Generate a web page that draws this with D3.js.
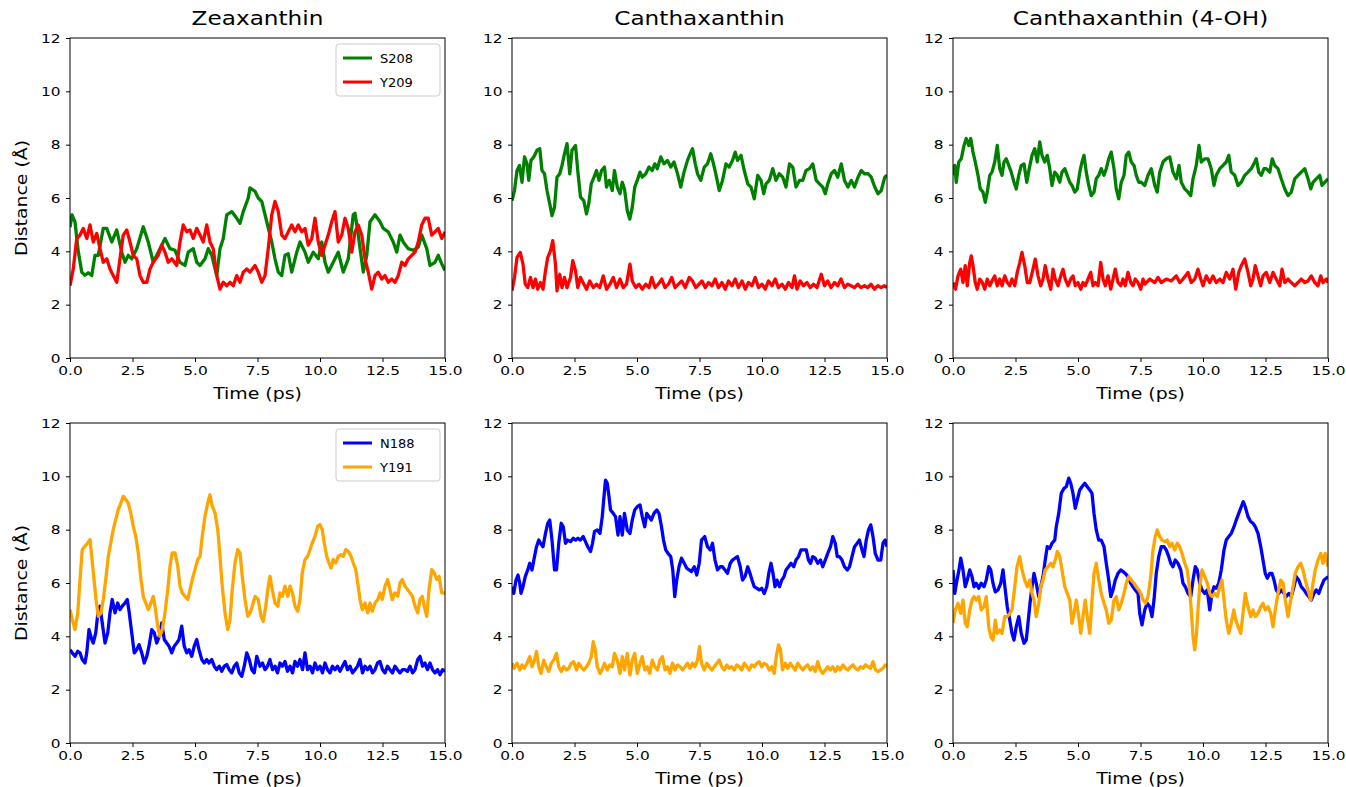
<!DOCTYPE html>
<html>
<head>
<meta charset="utf-8">
<script src="https://cdn.jsdelivr.net/npm/d3@7"></script>
<style>
  body { margin: 0; background: #fff; }
  svg text { font-family: "DejaVu Sans", sans-serif; fill: #000; }
</style>
</head>
<body>
<svg id="chart" width="1346" height="787"></svg>
<script>
// ---- data: [time (ps), distance (A)] ----
var zeaS208 = [[0,4.9],[0.08,5.37],[0.2,5.1],[0.33,4.0],[0.47,3.22],[0.6,3.1],[0.73,3.2],[0.87,3.09],[1.0,3.85],[1.13,3.85],[1.33,4.86],[1.47,4.86],[1.67,4.35],[1.87,4.8],[2.07,3.97],[2.2,3.59],[2.33,3.85],[2.47,3.72],[2.67,4.1],[2.93,4.92],[3.13,4.35],[3.33,3.59],[3.53,3.97],[3.8,4.48],[4.0,4.1],[4.2,4.04],[4.4,3.59],[4.6,3.47],[4.73,3.97],[4.93,4.1],[5.07,3.59],[5.2,3.47],[5.4,3.72],[5.53,4.1],[5.67,3.85],[5.87,3.09],[6.0,4.1],[6.13,4.48],[6.27,5.37],[6.47,5.49],[6.67,5.24],[6.8,5.05],[6.93,5.49],[7.13,6.0],[7.2,6.38],[7.4,6.25],[7.53,6.0],[7.67,5.87],[7.87,5.11],[8.07,4.35],[8.2,3.72],[8.33,3.22],[8.47,3.09],[8.6,3.85],[8.73,3.91],[8.87,3.22],[9.07,3.97],[9.2,4.35],[9.4,3.97],[9.53,3.59],[9.73,3.97],[9.93,3.72],[10.07,4.35],[10.2,3.59],[10.33,3.22],[10.53,3.59],[10.73,3.97],[10.93,3.22],[11.13,3.72],[11.33,5.37],[11.4,5.43],[11.53,4.61],[11.73,3.22],[11.87,3.85],[12.0,5.11],[12.2,5.37],[12.4,5.11],[12.53,4.86],[12.73,4.73],[12.93,4.35],[13.07,3.97],[13.2,4.61],[13.33,4.35],[13.53,4.1],[13.73,4.04],[13.93,4.16],[14.07,4.61],[14.27,4.1],[14.4,3.47],[14.6,3.59],[14.73,3.85],[14.87,3.53],[15.0,3.28]];
var zeaY209 = [[0,2.71],[0.13,3.34],[0.27,4.48],[0.4,4.61],[0.53,4.86],[0.67,4.48],[0.8,4.99],[0.93,4.35],[1.07,4.67],[1.2,4.1],[1.33,3.59],[1.47,3.72],[1.6,3.34],[1.73,3.09],[1.87,2.84],[2.0,3.72],[2.13,4.61],[2.27,4.8],[2.4,4.35],[2.53,3.85],[2.67,3.72],[2.8,3.09],[2.93,2.84],[3.07,2.84],[3.2,3.34],[3.33,3.59],[3.53,3.85],[3.67,4.23],[3.8,3.97],[3.93,3.59],[4.07,3.72],[4.27,3.47],[4.4,4.35],[4.53,4.99],[4.67,4.73],[4.8,4.8],[4.93,4.48],[5.07,4.86],[5.2,4.61],[5.33,4.35],[5.47,4.99],[5.6,4.35],[5.73,4.1],[5.87,3.09],[6.0,2.58],[6.13,2.84],[6.27,2.71],[6.4,2.84],[6.53,2.71],[6.67,3.09],[6.8,2.84],[6.93,3.22],[7.07,3.34],[7.2,3.22],[7.4,3.47],[7.53,3.22],[7.67,2.84],[7.8,3.09],[7.93,4.1],[8.07,5.37],[8.2,5.87],[8.33,5.49],[8.47,4.61],[8.6,4.48],[8.73,4.73],[8.87,4.99],[9.0,4.73],[9.13,4.99],[9.27,4.73],[9.4,4.86],[9.53,4.23],[9.67,4.48],[9.8,5.24],[9.93,4.35],[10.07,3.85],[10.2,4.23],[10.33,4.61],[10.47,5.11],[10.6,5.49],[10.73,4.35],[10.87,4.61],[11.0,5.24],[11.13,4.86],[11.27,3.97],[11.4,4.73],[11.53,4.99],[11.67,4.61],[11.8,3.72],[11.93,3.22],[12.07,2.58],[12.2,3.09],[12.33,3.22],[12.47,2.96],[12.6,3.09],[12.73,2.84],[12.87,2.96],[13.0,2.84],[13.13,3.09],[13.27,3.59],[13.4,3.47],[13.53,3.72],[13.67,3.85],[13.8,3.97],[13.93,4.35],[14.07,4.99],[14.2,5.24],[14.33,5.24],[14.47,4.61],[14.6,4.73],[14.73,4.86],[14.87,4.48],[15.0,4.73]];

var canS208 = [[0,5.9],[0.1,6.28],[0.2,7.03],[0.3,7.22],[0.4,6.59],[0.5,7.54],[0.6,7.28],[0.67,6.66],[0.76,7.41],[0.87,7.54],[1.0,7.79],[1.11,7.85],[1.2,7.03],[1.3,6.91],[1.4,6.28],[1.51,5.78],[1.6,5.34],[1.7,5.65],[1.8,6.78],[1.91,6.91],[2.0,7.22],[2.1,7.66],[2.2,8.04],[2.31,6.91],[2.4,7.79],[2.54,7.97],[2.63,7.03],[2.74,6.03],[2.87,5.9],[2.98,5.4],[3.07,5.78],[3.17,6.53],[3.28,6.78],[3.38,7.03],[3.48,6.66],[3.58,7.03],[3.7,7.16],[3.78,6.41],[3.89,6.66],[4.01,6.28],[4.1,7.03],[4.21,6.41],[4.32,6.16],[4.41,6.59],[4.5,6.34],[4.61,5.53],[4.71,5.21],[4.81,5.65],[4.91,6.41],[5.01,6.66],[5.12,6.97],[5.21,6.78],[5.35,6.91],[5.48,7.16],[5.61,7.03],[5.71,7.28],[5.81,7.1],[5.95,7.54],[6.08,7.28],[6.22,7.41],[6.35,7.16],[6.48,7.35],[6.62,6.91],[6.75,6.41],[6.88,6.97],[7.02,7.41],[7.13,7.66],[7.22,7.85],[7.33,7.28],[7.42,6.91],[7.55,6.66],[7.69,7.16],[7.82,7.28],[7.95,7.66],[8.06,7.28],[8.15,6.91],[8.29,6.28],[8.42,6.66],[8.56,7.28],[8.69,7.16],[8.82,7.41],[8.93,7.72],[9.02,7.41],[9.16,7.6],[9.29,7.03],[9.43,6.53],[9.56,6.41],[9.69,5.97],[9.83,6.85],[9.96,6.66],[10.07,6.16],[10.16,6.53],[10.29,6.66],[10.43,7.1],[10.56,6.66],[10.69,6.91],[10.83,6.78],[10.96,6.41],[11.1,7.28],[11.23,7.16],[11.36,6.41],[11.5,6.66],[11.63,6.66],[11.76,7.03],[11.9,7.1],[12.03,7.28],[12.17,6.66],[12.3,6.53],[12.43,6.41],[12.53,6.16],[12.63,6.53],[12.77,6.91],[12.9,7.03],[13.03,6.78],[13.17,7.28],[13.3,6.66],[13.44,6.41],[13.57,6.66],[13.7,6.41],[13.84,6.78],[13.97,7.03],[14.1,6.91],[14.24,6.91],[14.37,6.78],[14.51,6.41],[14.64,6.16],[14.77,6.28],[14.91,6.78],[15.0,6.85]];
var canY209 = [[0,2.52],[0.1,3.02],[0.2,3.77],[0.33,3.96],[0.44,3.52],[0.53,2.77],[0.63,2.64],[0.74,3.02],[0.84,2.64],[0.94,2.96],[1.03,2.58],[1.14,2.83],[1.24,2.58],[1.34,3.27],[1.43,3.77],[1.54,4.02],[1.63,4.4],[1.74,3.52],[1.8,2.52],[1.91,3.14],[2.0,2.64],[2.1,3.02],[2.2,2.64],[2.34,3.02],[2.43,3.65],[2.54,3.27],[2.63,2.64],[2.74,3.02],[2.84,2.83],[2.98,2.58],[3.11,2.89],[3.25,2.64],[3.38,2.77],[3.51,2.64],[3.65,3.08],[3.78,2.58],[3.92,2.77],[4.05,3.02],[4.18,2.64],[4.32,2.96],[4.45,2.64],[4.58,2.77],[4.72,3.52],[4.81,2.89],[4.95,2.64],[5.08,2.77],[5.21,2.58],[5.35,2.77],[5.48,2.64],[5.59,3.02],[5.72,2.64],[5.85,2.77],[5.99,2.96],[6.12,2.64],[6.26,2.77],[6.39,3.02],[6.52,2.64],[6.66,2.77],[6.79,2.89],[6.93,2.64],[7.09,3.02],[7.22,2.89],[7.35,2.64],[7.48,2.77],[7.6,2.89],[7.73,2.64],[7.86,2.83],[8.0,2.71],[8.13,2.96],[8.26,2.64],[8.4,2.83],[8.53,2.58],[8.66,2.89],[8.8,2.71],[8.93,2.96],[9.06,2.64],[9.2,2.89],[9.33,2.58],[9.46,2.83],[9.6,2.71],[9.73,3.02],[9.86,2.64],[10.0,2.77],[10.13,2.58],[10.26,2.89],[10.4,2.71],[10.53,2.96],[10.66,2.64],[10.8,2.77],[10.93,2.58],[11.06,2.83],[11.2,2.64],[11.3,3.08],[11.4,2.58],[11.53,2.89],[11.66,2.71],[11.8,2.83],[11.93,2.64],[12.06,2.77],[12.2,2.64],[12.37,3.14],[12.5,2.71],[12.63,2.89],[12.76,2.64],[12.9,2.83],[13.03,2.71],[13.16,2.96],[13.3,2.64],[13.43,2.77],[13.56,2.71],[13.7,2.64],[13.83,2.77],[13.96,2.64],[14.1,2.71],[14.23,2.64],[14.36,2.77],[14.5,2.58],[14.63,2.71],[14.76,2.64],[14.9,2.71],[15.0,2.64]];

var ohS208 = [[0,6.85],[0.07,7.22],[0.13,6.59],[0.23,7.35],[0.33,7.47],[0.44,7.97],[0.53,8.23],[0.63,7.97],[0.71,8.23],[0.8,7.72],[0.89,7.35],[1.0,6.85],[1.09,6.34],[1.2,6.22],[1.29,5.84],[1.37,6.22],[1.47,6.85],[1.56,6.97],[1.67,7.35],[1.77,7.97],[1.87,7.1],[1.96,6.85],[2.04,7.35],[2.13,7.47],[2.23,7.22],[2.33,6.97],[2.44,6.59],[2.53,6.34],[2.63,6.85],[2.73,7.22],[2.84,7.28],[2.95,6.59],[3.05,7.1],[3.16,7.6],[3.27,7.85],[3.37,7.35],[3.47,8.1],[3.56,7.6],[3.67,7.35],[3.77,7.6],[3.87,7.1],[3.96,6.47],[4.07,6.97],[4.17,6.85],[4.27,6.59],[4.36,6.97],[4.47,7.1],[4.57,6.85],[4.67,6.59],[4.76,6.47],[4.87,6.22],[4.97,6.34],[5.07,6.97],[5.16,7.35],[5.24,7.6],[5.33,6.97],[5.43,6.47],[5.53,6.09],[5.64,6.22],[5.73,6.72],[5.83,6.85],[5.93,7.1],[6.04,6.85],[6.13,7.1],[6.23,7.47],[6.33,7.72],[6.44,7.1],[6.53,6.34],[6.63,5.97],[6.73,6.59],[6.84,6.85],[6.93,7.6],[7.03,7.72],[7.13,7.35],[7.24,7.22],[7.33,6.85],[7.43,6.59],[7.53,6.59],[7.67,6.47],[7.8,6.85],[7.93,7.1],[8.07,6.47],[8.17,6.22],[8.27,6.97],[8.4,7.35],[8.53,7.47],[8.67,7.54],[8.8,6.97],[8.93,6.72],[9.04,7.22],[9.13,6.59],[9.27,6.34],[9.4,6.22],[9.51,6.09],[9.6,6.72],[9.73,7.22],[9.84,7.97],[9.93,7.35],[10.07,7.47],[10.2,7.47],[10.33,7.1],[10.44,6.47],[10.53,6.85],[10.67,7.1],[10.8,7.22],[10.93,7.35],[11.03,7.6],[11.13,6.97],[11.27,6.85],[11.4,6.47],[11.53,6.59],[11.67,6.85],[11.8,6.97],[11.93,7.1],[12.07,7.35],[12.13,7.47],[12.23,6.97],[12.33,6.85],[12.44,7.1],[12.53,7.1],[12.67,6.97],[12.77,7.47],[12.87,7.22],[13.0,7.1],[13.13,6.72],[13.27,6.34],[13.4,6.09],[13.53,6.22],[13.67,6.72],[13.8,6.85],[13.93,6.97],[14.07,7.1],[14.2,6.72],[14.31,6.34],[14.4,6.59],[14.53,6.72],[14.67,6.85],[14.76,6.47],[14.87,6.59],[15.0,6.72]];
var ohY209 = [[0,2.83],[0.1,2.58],[0.2,3.08],[0.31,3.33],[0.4,2.83],[0.49,3.46],[0.57,2.71],[0.67,3.58],[0.73,3.83],[0.8,3.46],[0.89,2.83],[0.97,2.58],[1.07,2.96],[1.17,2.83],[1.27,2.58],[1.37,2.96],[1.47,2.71],[1.56,2.89],[1.67,3.08],[1.77,2.71],[1.87,2.96],[1.96,2.71],[2.07,3.08],[2.17,2.83],[2.27,2.71],[2.36,2.96],[2.47,2.71],[2.57,3.21],[2.67,3.58],[2.76,3.96],[2.87,3.46],[2.97,2.83],[3.07,2.83],[3.2,3.33],[3.29,3.71],[3.4,3.08],[3.51,2.71],[3.6,2.96],[3.69,3.46],[3.8,2.96],[3.91,2.58],[4.0,3.33],[4.09,2.96],[4.2,2.71],[4.31,3.08],[4.4,3.33],[4.49,2.96],[4.6,2.71],[4.71,2.96],[4.8,3.08],[4.89,2.71],[5.0,2.83],[5.11,2.58],[5.2,2.83],[5.29,2.71],[5.4,2.96],[5.51,3.21],[5.6,2.71],[5.69,2.83],[5.8,2.71],[5.91,3.58],[6.0,2.96],[6.09,2.71],[6.2,3.08],[6.31,2.58],[6.4,2.96],[6.49,3.33],[6.6,2.83],[6.71,2.71],[6.8,2.96],[6.89,2.71],[7.0,3.21],[7.11,2.83],[7.2,2.71],[7.29,2.96],[7.4,2.83],[7.51,2.58],[7.6,2.96],[7.67,2.77],[7.87,2.96],[8.07,2.83],[8.2,3.02],[8.33,2.83],[8.53,2.96],[8.73,2.89],[8.93,3.08],[9.07,2.83],[9.2,2.96],[9.4,3.21],[9.53,2.83],[9.67,2.96],[9.8,3.33],[9.91,2.96],[10.0,2.71],[10.13,3.08],[10.27,2.83],[10.4,3.08],[10.53,2.83],[10.67,2.96],[10.8,2.83],[10.93,3.21],[11.07,2.96],[11.2,3.33],[11.31,2.58],[11.43,3.21],[11.53,3.46],[11.67,3.71],[11.8,3.21],[11.91,2.71],[12.0,2.96],[12.09,3.46],[12.2,3.08],[12.31,2.71],[12.4,3.08],[12.53,3.21],[12.67,2.83],[12.8,3.21],[12.93,2.96],[13.07,2.71],[13.16,3.33],[13.27,2.83],[13.4,2.96],[13.53,2.83],[13.67,2.71],[13.8,2.83],[13.93,2.96],[14.07,2.83],[14.2,2.89],[14.33,3.08],[14.47,2.83],[14.6,2.71],[14.71,3.08],[14.8,2.83],[14.93,2.96],[15.0,2.83]];

var zeaN188 = [[0,3.5],[0.09,3.38],[0.2,3.25],[0.31,3.44],[0.4,3.38],[0.49,3.13],[0.6,3.0],[0.67,3.38],[0.76,4.25],[0.87,3.88],[0.93,3.75],[1.03,4.13],[1.13,5.0],[1.2,5.13],[1.29,4.5],[1.4,3.75],[1.51,4.13],[1.6,4.88],[1.69,5.38],[1.8,4.88],[1.91,5.25],[2.0,5.0],[2.09,5.13],[2.2,5.25],[2.29,5.38],[2.37,4.88],[2.47,4.13],[2.57,3.38],[2.67,3.5],[2.76,3.69],[2.87,3.38],[2.97,3.0],[3.07,3.25],[3.16,3.63],[3.27,4.25],[3.37,4.13],[3.47,3.75],[3.57,4.0],[3.67,4.5],[3.77,3.88],[3.87,3.75],[3.96,3.63],[4.07,3.38],[4.17,3.63],[4.27,3.75],[4.36,3.88],[4.47,4.38],[4.57,3.63],[4.67,3.38],[4.76,3.5],[4.87,3.25],[4.97,3.63],[5.07,3.88],[5.16,3.5],[5.27,3.13],[5.37,3.0],[5.47,3.13],[5.56,3.0],[5.67,3.13],[5.77,2.88],[5.87,2.75],[5.97,2.88],[6.07,2.69],[6.17,2.88],[6.27,2.94],[6.37,2.75],[6.47,2.63],[6.57,2.88],[6.67,3.0],[6.77,2.63],[6.87,2.5],[6.97,2.88],[7.07,3.38],[7.17,3.13],[7.27,2.75],[7.37,2.63],[7.47,3.25],[7.6,2.88],[7.7,3.0],[7.8,2.75],[7.9,2.88],[8.0,3.13],[8.1,2.75],[8.2,2.88],[8.3,2.63],[8.4,3.0],[8.5,2.88],[8.6,3.06],[8.7,2.69],[8.8,2.88],[8.9,2.63],[9.0,3.06],[9.1,2.88],[9.2,3.13],[9.3,2.75],[9.4,3.38],[9.5,2.75],[9.6,2.88],[9.7,2.63],[9.8,3.0],[9.9,2.75],[10.0,2.88],[10.1,2.63],[10.2,3.0],[10.3,2.75],[10.4,2.63],[10.5,2.88],[10.6,2.75],[10.7,2.88],[10.8,2.69],[10.9,2.88],[11.0,3.06],[11.1,2.75],[11.2,2.88],[11.3,2.63],[11.4,2.75],[11.5,2.88],[11.6,3.13],[11.7,2.63],[11.8,2.88],[11.9,2.75],[12.0,2.88],[12.1,2.63],[12.2,2.75],[12.3,3.0],[12.4,3.06],[12.5,2.75],[12.6,2.63],[12.7,2.88],[12.8,2.75],[12.9,2.63],[13.0,2.88],[13.1,2.75],[13.2,2.63],[13.3,2.75],[13.4,2.75],[13.5,2.69],[13.6,2.88],[13.7,2.63],[13.8,2.75],[13.91,3.13],[14.0,3.25],[14.1,2.88],[14.2,3.0],[14.3,2.75],[14.4,3.0],[14.5,2.75],[14.6,2.63],[14.7,2.75],[14.8,2.56],[14.9,2.75],[15.0,2.69]];
var zeaY191 = [[0,5.0],[0.09,4.63],[0.2,4.25],[0.31,4.88],[0.4,6.13],[0.49,7.25],[0.6,7.38],[0.71,7.5],[0.8,7.63],[0.87,7.0],[0.96,6.13],[1.04,5.38],[1.13,4.75],[1.24,4.88],[1.33,5.38],[1.43,6.13],[1.53,7.0],[1.63,7.5],[1.73,8.0],[1.83,8.38],[1.93,8.75],[2.04,9.0],[2.13,9.25],[2.23,9.13],[2.33,9.0],[2.43,8.63],[2.53,8.13],[2.63,7.75],[2.73,7.13],[2.84,6.13],[2.93,5.5],[3.03,5.25],[3.13,5.0],[3.24,5.25],[3.33,5.5],[3.4,5.13],[3.51,4.38],[3.6,4.0],[3.69,4.25],[3.8,4.88],[3.91,5.75],[4.0,6.63],[4.09,7.13],[4.2,7.13],[4.31,6.63],[4.4,5.88],[4.49,5.63],[4.6,5.5],[4.71,5.38],[4.8,5.75],[4.89,6.13],[5.0,6.5],[5.11,6.88],[5.2,7.0],[5.29,7.75],[5.4,8.5],[5.51,9.0],[5.6,9.31],[5.69,8.88],[5.8,8.63],[5.91,8.0],[6.0,7.0],[6.09,5.88],[6.2,4.88],[6.31,4.25],[6.4,4.63],[6.49,5.75],[6.6,6.75],[6.71,7.25],[6.8,7.13],[6.89,6.25],[7.0,5.38],[7.11,4.75],[7.2,4.88],[7.29,5.13],[7.4,5.5],[7.53,5.38],[7.64,4.75],[7.73,4.56],[7.83,5.13],[7.93,5.88],[8.0,6.25],[8.09,5.75],[8.2,5.25],[8.31,5.13],[8.4,5.63],[8.5,5.5],[8.6,5.88],[8.71,5.5],[8.8,5.88],[8.9,5.63],[9.0,5.13],[9.11,4.94],[9.2,5.38],[9.29,6.38],[9.4,6.88],[9.51,7.0],[9.6,7.25],[9.69,7.5],[9.8,7.75],[9.91,8.13],[10.0,8.19],[10.09,8.0],[10.17,7.5],[10.27,7.0],[10.36,6.75],[10.44,6.56],[10.53,6.88],[10.63,6.75],[10.73,7.0],[10.83,7.06],[10.93,7.0],[11.03,7.25],[11.13,7.19],[11.24,7.0],[11.33,6.75],[11.43,6.5],[11.51,6.0],[11.6,5.38],[11.69,5.0],[11.8,5.25],[11.91,4.88],[12.0,5.25],[12.09,4.94],[12.2,5.25],[12.31,5.38],[12.4,5.63],[12.49,5.38],[12.6,5.88],[12.71,6.13],[12.8,5.75],[12.89,5.38],[13.0,5.63],[13.11,5.5],[13.2,6.0],[13.29,6.13],[13.4,5.88],[13.51,5.75],[13.6,5.63],[13.7,5.5],[13.8,5.13],[13.91,4.88],[14.0,5.38],[14.09,5.5],[14.17,5.13],[14.27,4.75],[14.36,5.75],[14.47,6.5],[14.57,6.38],[14.67,6.13],[14.76,6.25],[14.87,5.63],[15.0,5.63]];

var canN188 = [[0,5.86],[0.07,5.61],[0.16,6.11],[0.24,6.3],[0.31,5.99],[0.36,5.61],[0.44,5.86],[0.53,6.24],[0.63,6.49],[0.71,6.74],[0.8,6.49],[0.9,6.99],[0.98,7.36],[1.07,7.61],[1.14,7.49],[1.24,7.36],[1.34,7.86],[1.43,8.24],[1.51,8.36],[1.6,7.61],[1.7,6.49],[1.78,6.49],[1.87,7.49],[1.97,8.24],[2.05,8.11],[2.14,7.49],[2.23,7.61],[2.34,7.55],[2.45,7.68],[2.54,7.61],[2.64,7.68],[2.74,7.61],[2.85,7.74],[2.94,7.55],[3.03,7.36],[3.14,7.18],[3.22,7.49],[3.3,7.93],[3.41,7.99],[3.52,7.86],[3.61,8.49],[3.68,9.24],[3.74,9.86],[3.81,9.74],[3.88,9.24],[3.94,8.74],[4.05,8.61],[4.14,8.49],[4.24,7.8],[4.32,8.49],[4.41,7.8],[4.5,8.61],[4.61,7.99],[4.72,7.86],[4.81,8.36],[4.91,8.74],[5.01,8.86],[5.12,8.93],[5.21,8.49],[5.31,8.11],[5.39,8.61],[5.48,8.49],[5.57,8.36],[5.68,8.61],[5.79,8.74],[5.88,8.61],[5.98,8.11],[6.06,7.61],[6.15,7.24],[6.24,7.11],[6.35,6.99],[6.43,6.49],[6.51,5.49],[6.59,6.11],[6.68,6.61],[6.78,6.93],[6.89,6.74],[6.99,6.55],[7.09,6.49],[7.18,6.43],[7.29,6.61],[7.39,6.3],[7.49,6.74],[7.58,7.61],[7.71,7.74],[7.82,7.36],[7.93,7.24],[8.02,7.49],[8.12,6.86],[8.22,6.49],[8.33,6.61],[8.42,6.61],[8.52,6.49],[8.62,6.36],[8.73,6.74],[8.82,6.86],[8.92,6.93],[9.02,6.99],[9.13,6.61],[9.22,6.11],[9.32,6.24],[9.43,6.61],[9.52,6.36],[9.6,6.11],[9.69,5.86],[9.8,5.8],[9.89,5.74],[9.99,5.8],[10.09,5.61],[10.19,5.86],[10.27,6.36],[10.36,6.74],[10.44,6.36],[10.52,5.86],[10.6,6.11],[10.7,5.86],[10.79,6.11],[10.88,6.24],[10.96,6.49],[11.06,6.61],[11.16,6.74],[11.27,6.61],[11.36,6.86],[11.46,6.99],[11.56,7.24],[11.67,7.24],[11.77,7.24],[11.86,6.86],[11.94,6.74],[12.03,6.99],[12.13,6.93],[12.23,6.74],[12.34,6.86],[12.43,6.61],[12.53,6.86],[12.63,7.11],[12.74,7.36],[12.83,7.74],[12.93,7.49],[13.01,6.99],[13.1,6.99],[13.2,6.86],[13.3,6.61],[13.41,6.49],[13.5,6.61],[13.6,6.99],[13.7,7.36],[13.81,7.49],[13.9,7.61],[14.0,7.24],[14.08,6.99],[14.17,7.61],[14.26,7.99],[14.35,8.18],[14.44,7.74],[14.53,7.11],[14.64,6.86],[14.75,6.86],[14.84,7.49],[14.93,7.61],[15.0,7.36]];
var canY191 = [[0,2.99],[0.09,2.8],[0.2,2.99],[0.31,2.74],[0.4,2.93],[0.49,2.8],[0.6,2.99],[0.71,3.24],[0.8,2.86],[0.9,3.11],[0.98,3.43],[1.07,2.86],[1.16,2.61],[1.27,3.11],[1.37,2.86],[1.47,2.68],[1.57,2.99],[1.67,3.11],[1.78,3.36],[1.87,2.86],[1.97,2.68],[2.07,2.86],[2.18,2.74],[2.27,2.8],[2.37,2.99],[2.47,3.05],[2.58,2.74],[2.67,2.99],[2.76,2.86],[2.87,2.74],[2.98,2.86],[3.07,2.99],[3.17,3.24],[3.25,3.8],[3.33,3.49],[3.41,2.86],[3.52,2.61],[3.6,2.74],[3.7,2.99],[3.81,2.74],[3.91,2.93],[4.01,2.86],[4.1,3.36],[4.21,3.11],[4.32,2.61],[4.41,3.24],[4.5,2.74],[4.61,3.36],[4.72,2.55],[4.81,3.11],[4.91,3.36],[5.01,2.61],[5.12,2.99],[5.21,3.24],[5.31,2.74],[5.41,2.86],[5.51,2.61],[5.61,3.11],[5.71,2.86],[5.82,2.74],[5.92,3.11],[6.02,3.24],[6.12,2.74],[6.22,2.86],[6.32,2.61],[6.42,2.99],[6.52,2.74],[6.62,2.93],[6.72,2.86],[6.82,2.74],[6.92,2.86],[7.02,2.99],[7.12,2.8],[7.22,2.99],[7.32,2.86],[7.42,3.11],[7.5,3.61],[7.58,2.99],[7.69,2.74],[7.79,2.99],[7.89,2.86],[7.99,2.74],[8.09,2.86],[8.19,2.99],[8.29,3.11],[8.39,2.86],[8.49,2.74],[8.59,2.93],[8.69,2.8],[8.79,2.86],[8.89,2.74],[8.99,2.93],[9.09,2.86],[9.19,2.74],[9.29,2.99],[9.39,2.86],[9.49,2.74],[9.59,2.93],[9.69,2.86],[9.79,2.99],[9.89,3.05],[9.99,2.86],[10.09,2.99],[10.19,2.93],[10.29,2.74],[10.39,2.86],[10.49,2.61],[10.57,3.24],[10.66,3.68],[10.74,3.49],[10.82,2.74],[10.93,2.99],[11.03,2.8],[11.13,2.99],[11.23,2.86],[11.33,2.74],[11.43,2.99],[11.53,2.86],[11.63,2.74],[11.73,2.86],[11.83,2.93],[11.93,2.74],[12.03,2.86],[12.13,2.68],[12.23,3.05],[12.33,2.74],[12.43,2.61],[12.53,2.74],[12.63,2.86],[12.73,2.74],[12.83,2.86],[12.93,2.68],[13.03,2.86],[13.13,2.74],[13.24,2.93],[13.34,2.8],[13.44,2.74],[13.54,2.86],[13.64,2.93],[13.74,2.8],[13.84,2.74],[13.94,2.86],[14.04,2.8],[14.14,2.93],[14.24,2.86],[14.34,2.8],[14.44,3.05],[14.54,2.74],[14.64,2.68],[14.74,2.74],[14.84,2.8],[14.93,2.93],[15.0,2.86]];

var ohN188 = [[0,6.49],[0.07,5.61],[0.16,6.11],[0.24,6.49],[0.31,6.93],[0.4,6.49],[0.49,5.86],[0.57,6.11],[0.67,6.49],[0.76,6.24],[0.84,5.86],[0.93,5.99],[1.03,5.8],[1.13,5.99],[1.24,5.86],[1.33,6.11],[1.43,6.61],[1.51,6.49],[1.6,5.99],[1.69,5.67],[1.8,5.74],[1.91,5.99],[2.0,6.49],[2.09,5.74],[2.17,5.11],[2.27,4.61],[2.36,4.11],[2.44,3.86],[2.53,4.36],[2.63,4.74],[2.73,4.11],[2.84,3.74],[2.93,3.86],[3.0,4.49],[3.08,5.24],[3.16,5.86],[3.24,6.36],[3.33,5.99],[3.43,5.49],[3.51,5.86],[3.6,6.24],[3.69,6.86],[3.77,7.36],[3.87,7.3],[3.96,7.49],[4.07,7.61],[4.13,8.11],[4.23,8.61],[4.33,9.36],[4.44,9.55],[4.53,9.61],[4.63,9.93],[4.71,9.74],[4.8,9.36],[4.89,8.8],[4.97,9.11],[5.07,9.49],[5.16,9.61],[5.27,9.74],[5.37,9.61],[5.47,9.49],[5.56,9.36],[5.64,8.61],[5.73,7.99],[5.83,7.61],[5.93,7.61],[6.04,7.36],[6.13,6.74],[6.23,6.11],[6.31,5.49],[6.4,5.74],[6.49,6.11],[6.6,6.36],[6.71,6.49],[6.8,6.43],[6.89,6.36],[7.0,6.24],[7.11,5.99],[7.2,5.86],[7.29,5.74],[7.4,5.61],[7.47,4.86],[7.56,4.43],[7.67,4.99],[7.77,5.24],[7.87,5.11],[7.96,4.74],[8.04,5.36],[8.13,6.36],[8.23,6.99],[8.33,7.36],[8.44,7.36],[8.53,7.24],[8.63,6.99],[8.71,6.74],[8.8,6.61],[8.89,6.86],[9.0,6.74],[9.11,6.49],[9.2,5.99],[9.29,5.86],[9.4,5.61],[9.51,5.49],[9.6,6.11],[9.69,6.61],[9.77,6.49],[9.87,5.99],[9.96,5.74],[10.07,5.61],[10.17,5.74],[10.27,4.99],[10.36,5.61],[10.44,5.86],[10.53,5.8],[10.63,5.99],[10.73,6.49],[10.84,7.24],[10.93,7.61],[11.03,7.74],[11.13,7.86],[11.24,8.11],[11.33,8.36],[11.43,8.61],[11.53,8.86],[11.61,9.05],[11.69,8.86],[11.8,8.49],[11.91,8.3],[12.0,8.24],[12.09,8.11],[12.2,7.86],[12.31,7.36],[12.4,6.86],[12.49,6.36],[12.57,6.18],[12.67,6.36],[12.76,6.36],[12.84,6.11],[12.93,5.74],[13.03,5.61],[13.13,5.74],[13.24,5.61],[13.33,5.49],[13.43,5.61],[13.53,5.49],[13.64,5.86],[13.73,6.24],[13.83,6.11],[13.93,5.86],[14.04,5.74],[14.13,5.61],[14.23,5.49],[14.33,5.36],[14.44,5.61],[14.53,5.74],[14.63,5.61],[14.73,5.86],[14.84,6.11],[14.93,6.18],[15.0,6.24]];
var ohY191 = [[0,4.49],[0.09,4.99],[0.2,5.24],[0.31,4.86],[0.4,5.36],[0.49,4.49],[0.57,4.36],[0.67,4.99],[0.76,5.36],[0.84,5.49],[0.93,5.36],[1.03,5.49],[1.13,4.99],[1.24,5.11],[1.33,5.49],[1.43,4.36],[1.51,3.99],[1.6,3.86],[1.69,4.61],[1.77,4.11],[1.87,4.24],[1.96,4.11],[2.07,4.74],[2.17,4.74],[2.27,4.86],[2.36,4.99],[2.47,5.86],[2.56,6.61],[2.67,6.99],[2.76,6.49],[2.87,6.11],[2.97,5.86],[3.07,6.11],[3.16,5.61],[3.24,5.36],[3.33,4.74],[3.43,5.24],[3.51,5.86],[3.6,6.11],[3.69,6.49],[3.8,6.61],[3.91,6.74],[4.0,6.61],[4.09,6.86],[4.17,7.18],[4.27,6.99],[4.36,6.49],[4.47,5.86],[4.57,5.61],[4.67,5.36],[4.76,4.49],[4.84,4.86],[4.93,5.36],[5.03,4.74],[5.11,4.11],[5.2,4.74],[5.29,5.36],[5.37,4.74],[5.47,4.11],[5.56,5.36],[5.64,6.36],[5.73,6.74],[5.83,6.11],[5.93,5.61],[6.04,5.24],[6.13,4.99],[6.23,4.49],[6.33,4.61],[6.44,5.36],[6.53,5.49],[6.63,4.99],[6.73,5.24],[6.84,5.61],[6.93,5.99],[7.03,6.24],[7.13,6.11],[7.24,5.99],[7.33,5.86],[7.43,5.74],[7.51,5.61],[7.6,5.36],[7.7,5.24],[7.8,5.49],[7.91,6.24],[8.0,7.24],[8.09,7.74],[8.17,7.99],[8.27,7.74],[8.36,7.61],[8.47,7.55],[8.57,7.61],[8.67,7.36],[8.76,7.49],[8.87,7.24],[8.97,7.49],[9.07,7.36],[9.16,7.11],[9.27,6.74],[9.37,6.49],[9.47,5.74],[9.53,4.99],[9.6,3.99],[9.67,3.49],[9.73,3.99],[9.8,4.99],[9.87,5.86],[9.96,6.49],[10.07,6.24],[10.17,5.99],[10.27,5.61],[10.36,5.49],[10.47,5.61],[10.57,5.49],[10.67,5.86],[10.76,6.11],[10.84,5.36],[10.93,4.61],[11.03,4.11],[11.13,4.49],[11.23,4.99],[11.31,4.61],[11.4,4.36],[11.51,4.11],[11.6,4.86],[11.69,5.61],[11.8,5.11],[11.91,4.74],[12.0,4.99],[12.09,4.74],[12.2,4.86],[12.31,5.11],[12.4,5.24],[12.49,4.99],[12.6,5.11],[12.71,4.86],[12.8,4.36],[12.89,4.99],[13.0,5.61],[13.11,6.11],[13.2,5.99],[13.29,5.36],[13.4,4.74],[13.51,5.36],[13.6,5.86],[13.69,6.36],[13.8,6.61],[13.91,6.74],[14.0,6.49],[14.09,6.11],[14.2,5.74],[14.31,5.36],[14.4,5.99],[14.49,6.49],[14.6,6.86],[14.71,7.11],[14.8,6.74],[14.89,7.11],[15.0,6.61]];

var titles = ["Zeaxanthin", "Canthaxanthin", "Canthaxanthin (4-OH)"];
var xTicks = [0, 2.5, 5, 7.5, 10, 12.5, 15];
var yTicks = [0, 2, 4, 6, 8, 10, 12];
var topNames = ["S208", "Y209"];
var bottomNames = ["N188", "Y191"];

var colours = { S208: "green", Y209: "red", N188: "blue", Y191: "orange" };

var panels = [
  { row: 0, col: 0, series: [zeaS208, zeaY209], names: topNames, legend: true },
  { row: 0, col: 1, series: [canS208, canY209], names: topNames },
  { row: 0, col: 2, series: [ohS208, ohY209], names: topNames },
  { row: 1, col: 0, series: [zeaN188, zeaY191], names: bottomNames, legend: true },
  { row: 1, col: 1, series: [canN188, canY191], names: bottomNames },
  { row: 1, col: 2, series: [ohN188, ohY191], names: bottomNames }
];

var colX = [70, 512, 953];
var rowY = [38, 423];
var pw = 375, ph = 320;
var stretch = 1.18;   // the source image is a bit wide, so text is widened too

var svg = d3.select('#chart');

panels.forEach(function(p, i) {
  var x0 = colX[p.col], y0 = rowY[p.row];
  var g = svg.append('g').attr('transform', 'translate(' + x0 + ',' + y0 + ')');

  var x = d3.scaleLinear().domain([0, 15]).range([0, pw]);
  var y = d3.scaleLinear().domain([0, 12]).range([ph, 0]);

  g.append('clipPath').attr('id', 'clip' + i)
    .append('rect').attr('width', pw).attr('height', ph);

  var line = d3.line().x(function(d) { return x(d[0]); }).y(function(d) { return y(d[1]); });

  p.series.forEach(function(s, k) {
    g.append('path')
      .datum(s)
      .attr('clip-path', 'url(#clip' + i + ')')
      .attr('fill', 'none')
      .attr('stroke', colours[p.names[k]])
      .attr('stroke-width', 3.3)
      .attr('stroke-linejoin', 'round')
      .attr('d', line);
  });

  var xa = g.append('g').attr('transform', 'translate(0,' + ph + ')')
    .call(d3.axisBottom(x).tickValues(xTicks).tickFormat(d3.format('.1f')).tickSizeOuter(0).tickSize(4).tickPadding(4));
  var ya = g.append('g')
    .call(d3.axisLeft(y).tickValues(yTicks).tickFormat(d3.format('d')).tickSizeOuter(0).tickSize(4).tickPadding(4));
  [xa, ya].forEach(function(a) {
    a.selectAll('text').style('font-size', '13px').attr('fill', '#000')
      .attr('transform', 'scale(' + stretch + ',1)');
    a.selectAll('line').attr('stroke', '#000');
    a.select('.domain').remove();
  });

  g.append('rect').attr('width', pw).attr('height', ph)
    .attr('fill', 'none').attr('stroke', '#000').attr('stroke-width', 1);

  g.append('text')
    .attr('transform', 'translate(' + (pw / 2) + ',' + (ph + 41) + ') scale(' + stretch + ',1)')
    .attr('text-anchor', 'middle')
    .style('font-size', '16px')
    .text('Time (ps)');

  if (p.row === 0) {
    g.append('text')
      .attr('transform', 'translate(' + (pw / 2) + ',-13) scale(' + (stretch + 0.04) + ',1)')
      .attr('text-anchor', 'middle')
      .style('font-size', '19px')
      .text(titles[p.col]);
  }

  if (p.col === 0) {
    g.append('text')
      .attr('transform', 'translate(-43,' + (ph / 2) + ') rotate(-90) scale(' + stretch + ',1)')
      .attr('text-anchor', 'middle')
      .style('font-size', '16px')
      .text('Distance (Å)');
  }

  if (p.legend) {
    var lg = g.append('g').attr('transform', 'translate(' + (pw - 109) + ',6)');
    lg.append('rect').attr('width', 104).attr('height', 52).attr('rx', 3)
      .attr('fill', '#fff').attr('fill-opacity', 0.8)
      .attr('stroke', '#ccc');
    p.names.forEach(function(n, k) {
      lg.append('line')
        .attr('x1', 7).attr('x2', 36)
        .attr('y1', 14 + k * 24).attr('y2', 14 + k * 24)
        .attr('stroke', colours[n]).attr('stroke-width', 3);
      lg.append('text')
        .attr('x', 44).attr('y', 19 + k * 24)
        .style('font-size', '13px')
        .text(n);
    });
  }
});
</script>
</body>
</html>
